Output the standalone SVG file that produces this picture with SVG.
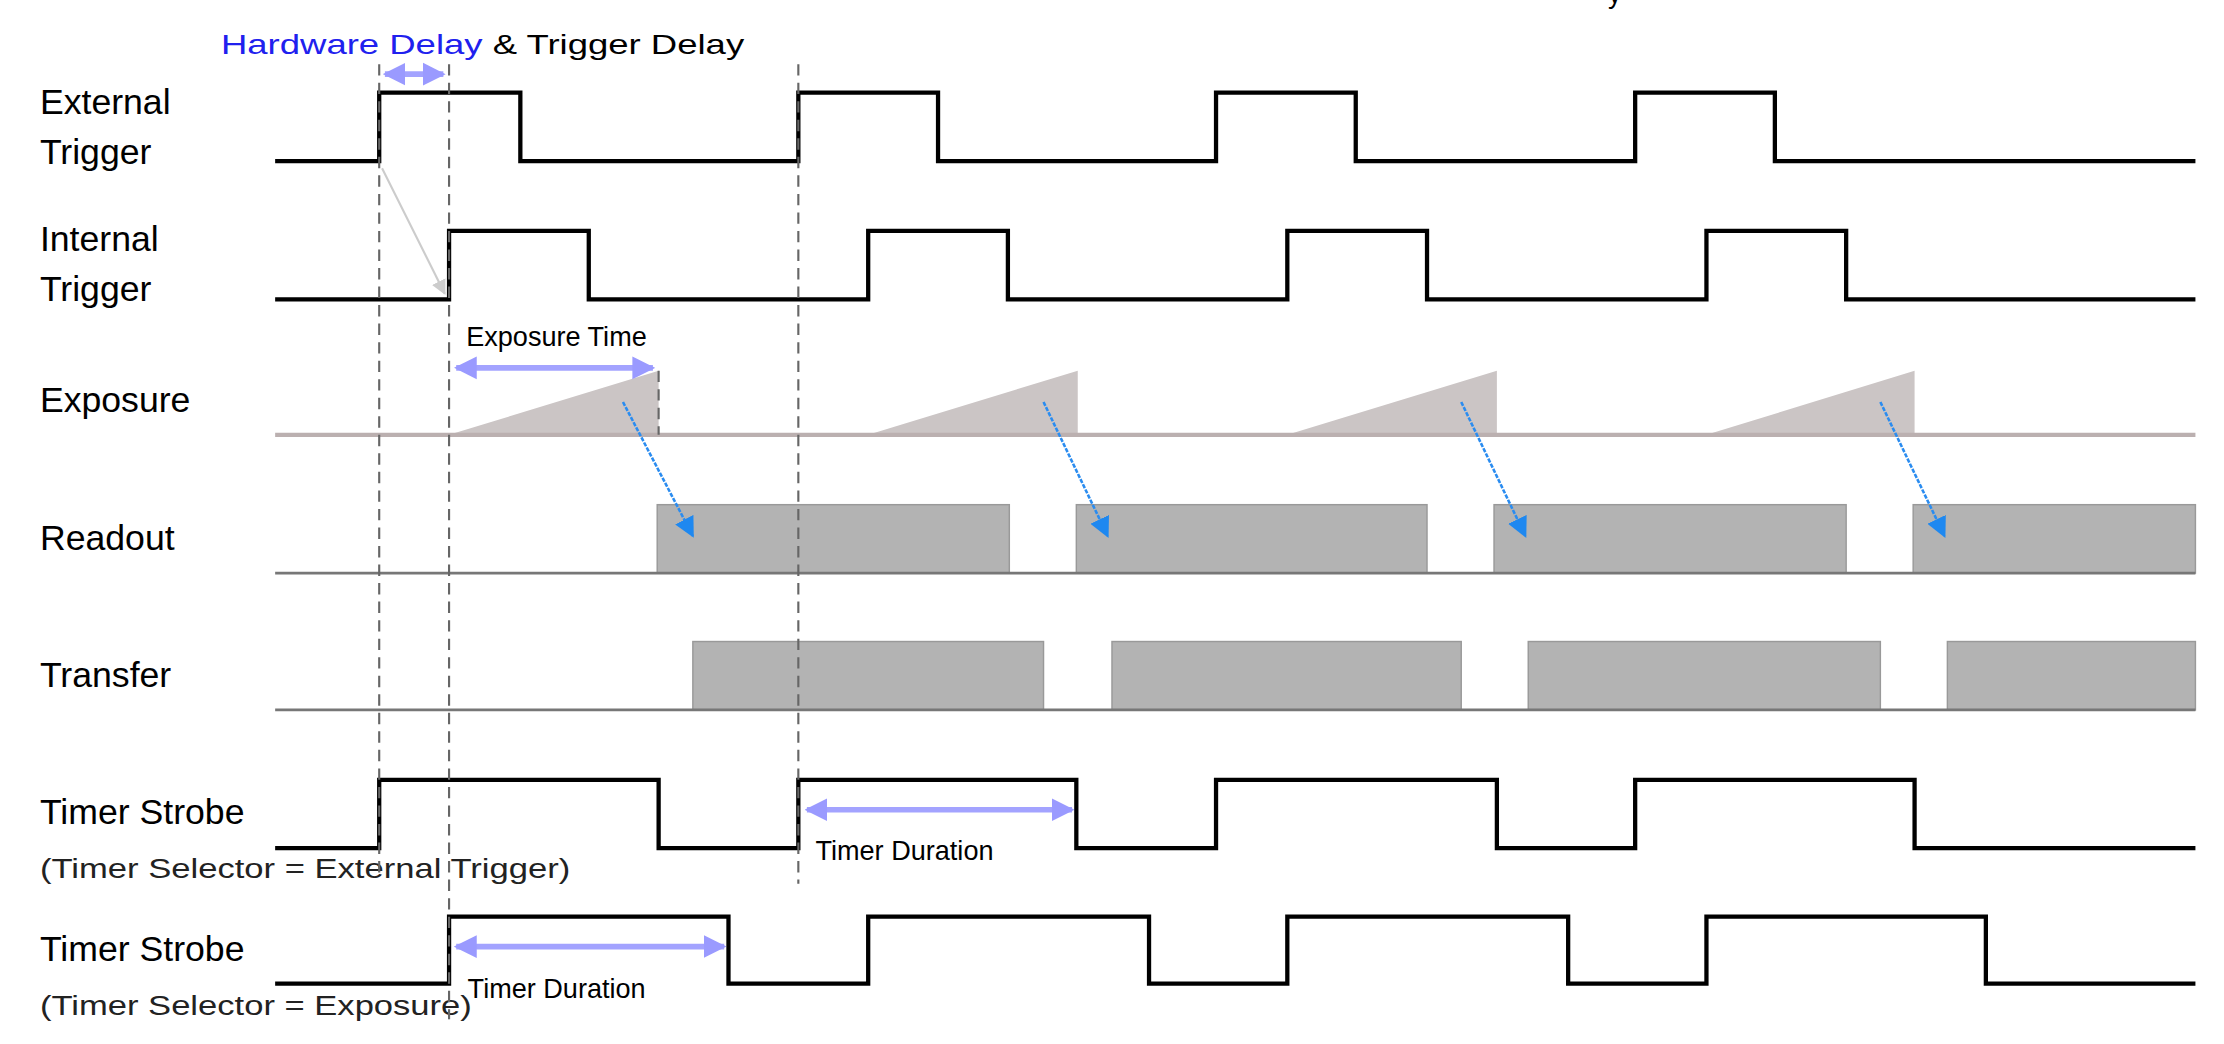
<svg xmlns="http://www.w3.org/2000/svg" width="2224" height="1044" viewBox="0 0 2224 1044">
<style>
.sig{fill:none;stroke:#000;stroke-width:3}
.base{fill:none;stroke:#777;stroke-width:2}
.dash{fill:none;stroke:#666;stroke-width:1.5;stroke-dasharray:8 5}
.lbl{font-family:"Liberation Sans",Arial,sans-serif;font-size:25px;fill:#000}
.sub{font-family:"Liberation Sans",Arial,sans-serif;font-size:19px;fill:#222}
.ann{font-family:"Liberation Sans",Arial,sans-serif;font-size:19px;fill:#000}
.blk{fill:#b3b3b3;stroke:#999;stroke-width:1}
.tri{fill:#cbc5c5}
.dim{stroke:#a3a3ff;stroke-width:4;fill:none;marker-start:url(#da);marker-end:url(#da)}
.blue{stroke:#2a8cf0;stroke-width:1.8;fill:none;stroke-dasharray:3 1;marker-end:url(#ba)}
</style>
<defs>
<marker id="da" viewBox="0 0 10 10" refX="9" refY="5" markerWidth="4" markerHeight="5" orient="auto-start-reverse" markerUnits="strokeWidth"><path d="M0 0L10 5L0 10z" fill="#9a9aff"/></marker>
<marker id="ba" viewBox="0 0 10 10" refX="9" refY="5" markerWidth="8" markerHeight="8" orient="auto" markerUnits="strokeWidth"><path d="M0 0L10 5L0 10z" fill="#1e88f0"/></marker>
<marker id="ga" viewBox="0 0 10 10" refX="9" refY="5" markerWidth="7" markerHeight="7" orient="auto" markerUnits="strokeWidth"><path d="M0 0L10 5L0 10z" fill="#ccc"/></marker>
</defs>
<rect width="2224" height="1044" fill="#fff"/>
<g transform="scale(1.4256)">
<g id="labels">
<text class="ann" x="155" y="38" textLength="367" lengthAdjust="spacingAndGlyphs"><tspan fill="#2020ee">Hardware Delay</tspan> &amp; Trigger Delay</text>
<text class="ann" x="1128" y="2" font-size="22">y</text>
<text class="lbl" x="28" y="80">External</text>
<text class="lbl" x="28" y="115">Trigger</text>
<text class="lbl" x="28" y="176">Internal</text>
<text class="lbl" x="28" y="211">Trigger</text>
<text class="lbl" x="28" y="289">Exposure</text>
<text class="lbl" x="28" y="386">Readout</text>
<text class="lbl" x="28" y="482">Transfer</text>
<text class="lbl" x="28" y="578">Timer Strobe</text>
<text class="sub" x="28" y="616" textLength="372" lengthAdjust="spacingAndGlyphs">(Timer Selector = External Trigger)</text>
<text class="lbl" x="28" y="674">Timer Strobe</text>
<text class="sub" x="28" y="712" textLength="303" lengthAdjust="spacingAndGlyphs">(Timer Selector = Exposure)</text>
<text class="ann" x="327" y="243">Exposure Time</text>
<text class="ann" x="572" y="603">Timer Duration</text>
<text class="ann" x="328" y="700">Timer Duration</text>
</g>
<g id="exposure">
<path class="tri" d="M315 305L462 260L462 305z M609 305L756 260L756 305z M903 305L1050 260L1050 305z M1197 305L1343 260L1343 305z"/>
<path d="M193 305H1540" stroke="#bbb0b0" stroke-width="3"/>
</g>
<g id="readout">
<rect class="blk" x="461" y="354" width="247" height="48"/>
<rect class="blk" x="755" y="354" width="246" height="48"/>
<rect class="blk" x="1048" y="354" width="247" height="48"/>
<rect class="blk" x="1342" y="354" width="198" height="48"/>
<path class="base" d="M193 402H1540"/>
</g>
<g id="transfer">
<rect class="blk" x="486" y="450" width="246" height="48"/>
<rect class="blk" x="780" y="450" width="245" height="48"/>
<rect class="blk" x="1072" y="450" width="247" height="48"/>
<rect class="blk" x="1366" y="450" width="174" height="48"/>
<path class="base" d="M193 498H1540"/>
</g>
<g id="signals">
<path id="ext" class="sig" d="M193 113H266V65H365V113H560V65H658V113H853V65H951V113H1147V65H1245V113H1540"/>
<path id="int" class="sig" d="M193 210H315V162H413V210H609V162H707V210H903V162H1001V210H1197V162H1295V210H1540"/>
<path id="ts1" class="sig" d="M193 595H266V547H462V595H560V547H755V595H853V547H1050V595H1147V547H1343V595H1540"/>
<path id="ts2" class="sig" d="M193 690H315V643H511V690H609V643H806V690H903V643H1100V690H1197V643H1393V690H1540"/>
</g>
<g id="connectors">
<path class="dash" d="M266 45V612"/>
<path class="dash" d="M315 45V715"/>
<path class="dash" d="M560 45V620"/>
<path class="dash" d="M462 260V305"/>
<path d="M268 118L312 206" stroke="#ccc" stroke-width="1.5" fill="none" marker-end="url(#ga)"/>
<path class="dim" d="M270 52H311"/>
<path class="dim" d="M320 258H458"/>
<path class="dim" d="M566 568H752"/>
<path class="dim" d="M320 664H508"/>
<path class="blue" d="M437 282L486 376"/>
<path class="blue" d="M732 282L777 376"/>
<path class="blue" d="M1025 282L1070 376"/>
<path class="blue" d="M1319 282L1364 376"/>
</g>
</g>
</svg>
